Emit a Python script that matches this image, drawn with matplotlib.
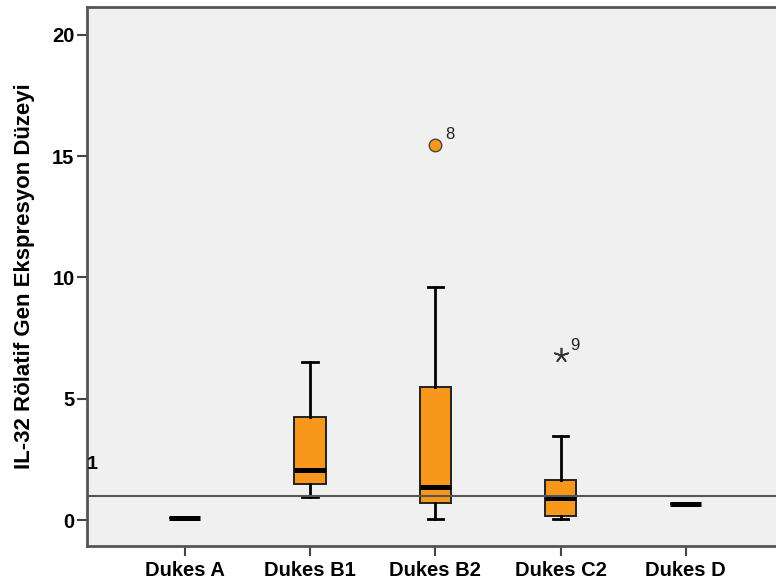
import matplotlib.pyplot as plt

# Relative IL-32 expression per Dukes stage (box plot summary values)
groups = ['Dukes A', 'Dukes B1', 'Dukes B2', 'Dukes C2', 'Dukes D']
whislo = [0.08, 0.95, 0.04, 0.04, 0.66]
q1 = [0.08, 1.48, 0.71, 0.18, 0.66]
med = [0.08, 2.06, 1.36, 0.90, 0.66]
q3 = [0.08, 4.25, 5.48, 1.65, 0.66]
whishi = [0.08, 6.50, 9.60, 3.46, 0.66]
fliers = [[], [], [15.46], [6.80], []]
flier_ids = [[], [], ['8'], ['9'], []]
ref_value = 1

plt.rcParams['font.family'] = ['Liberation Sans', 'DejaVu Sans']

stats = []
for i, g in enumerate(groups):
    stats.append(dict(label=g, whislo=whislo[i], q1=q1[i], med=med[i],
                      q3=q3[i], whishi=whishi[i], fliers=fliers[i]))

fig = plt.figure(figsize=(7.76, 5.87), dpi=100)
ax = fig.add_axes([87 / 776, 41 / 587, 1 - 87 / 776, 539 / 587])
ax.set_facecolor('#f0f0f0')

bp = ax.bxp(stats, positions=range(len(groups)), widths=0.25,
            patch_artist=True, showfliers=True,
            boxprops=dict(facecolor='#f7981d', edgecolor='#222222', linewidth=1.4),
            medianprops=dict(color='black', linewidth=3.6, solid_capstyle='butt'),
            whiskerprops=dict(color='black', linewidth=2),
            capprops=dict(color='black', linewidth=2),
            capwidths=0.12,
            flierprops=dict(marker='o', markerfacecolor='#f7981d',
                            markeredgecolor='#444444', markersize=9))

# extreme value for C2 drawn as an asterisk
bp['fliers'][3].set_marker((5, 2, 0))
bp['fliers'][3].set_markeredgecolor('#333333')
bp['fliers'][3].set_markeredgewidth(1.2)
bp['fliers'][3].set_markersize(11)

for i in range(len(groups)):
    for v, lab in zip(fliers[i], flier_ids[i]):
        ax.annotate(lab, (i, v), xytext=(7, 4), textcoords='offset points',
                    fontsize=12, color='#222222')

ax.axhline(ref_value, color='#555555', linewidth=1.5, zorder=5)
ax.text(-0.785, ref_value + 1.1, '1', fontsize=14, fontweight='bold')

ax.set_xlim(-0.78, 4.72)
ax.set_ylim(-1.07, 21.15)
ax.set_yticks([0, 5, 10, 15, 20])
ax.set_xticks(range(len(groups)))
ax.set_xticklabels(groups)

for lbl in ax.get_xticklabels() + ax.get_yticklabels():
    lbl.set_fontweight('bold')
    lbl.set_fontsize(14.5)

ax.tick_params(axis='both', direction='out', length=7, width=1.5, color='#444444')
ax.tick_params(axis='x', pad=4)
ax.tick_params(axis='y', pad=2)
ax.spines['right'].set_visible(False)
for s in ['left', 'bottom', 'top']:
    ax.spines[s].set_color('#555555')
    ax.spines[s].set_linewidth(2)

ax.set_ylabel('IL-32 Rölatif Gen Ekspresyon Düzeyi', fontsize=16,
              fontweight='bold', labelpad=12)

fig.savefig('out.png', dpi=100)
